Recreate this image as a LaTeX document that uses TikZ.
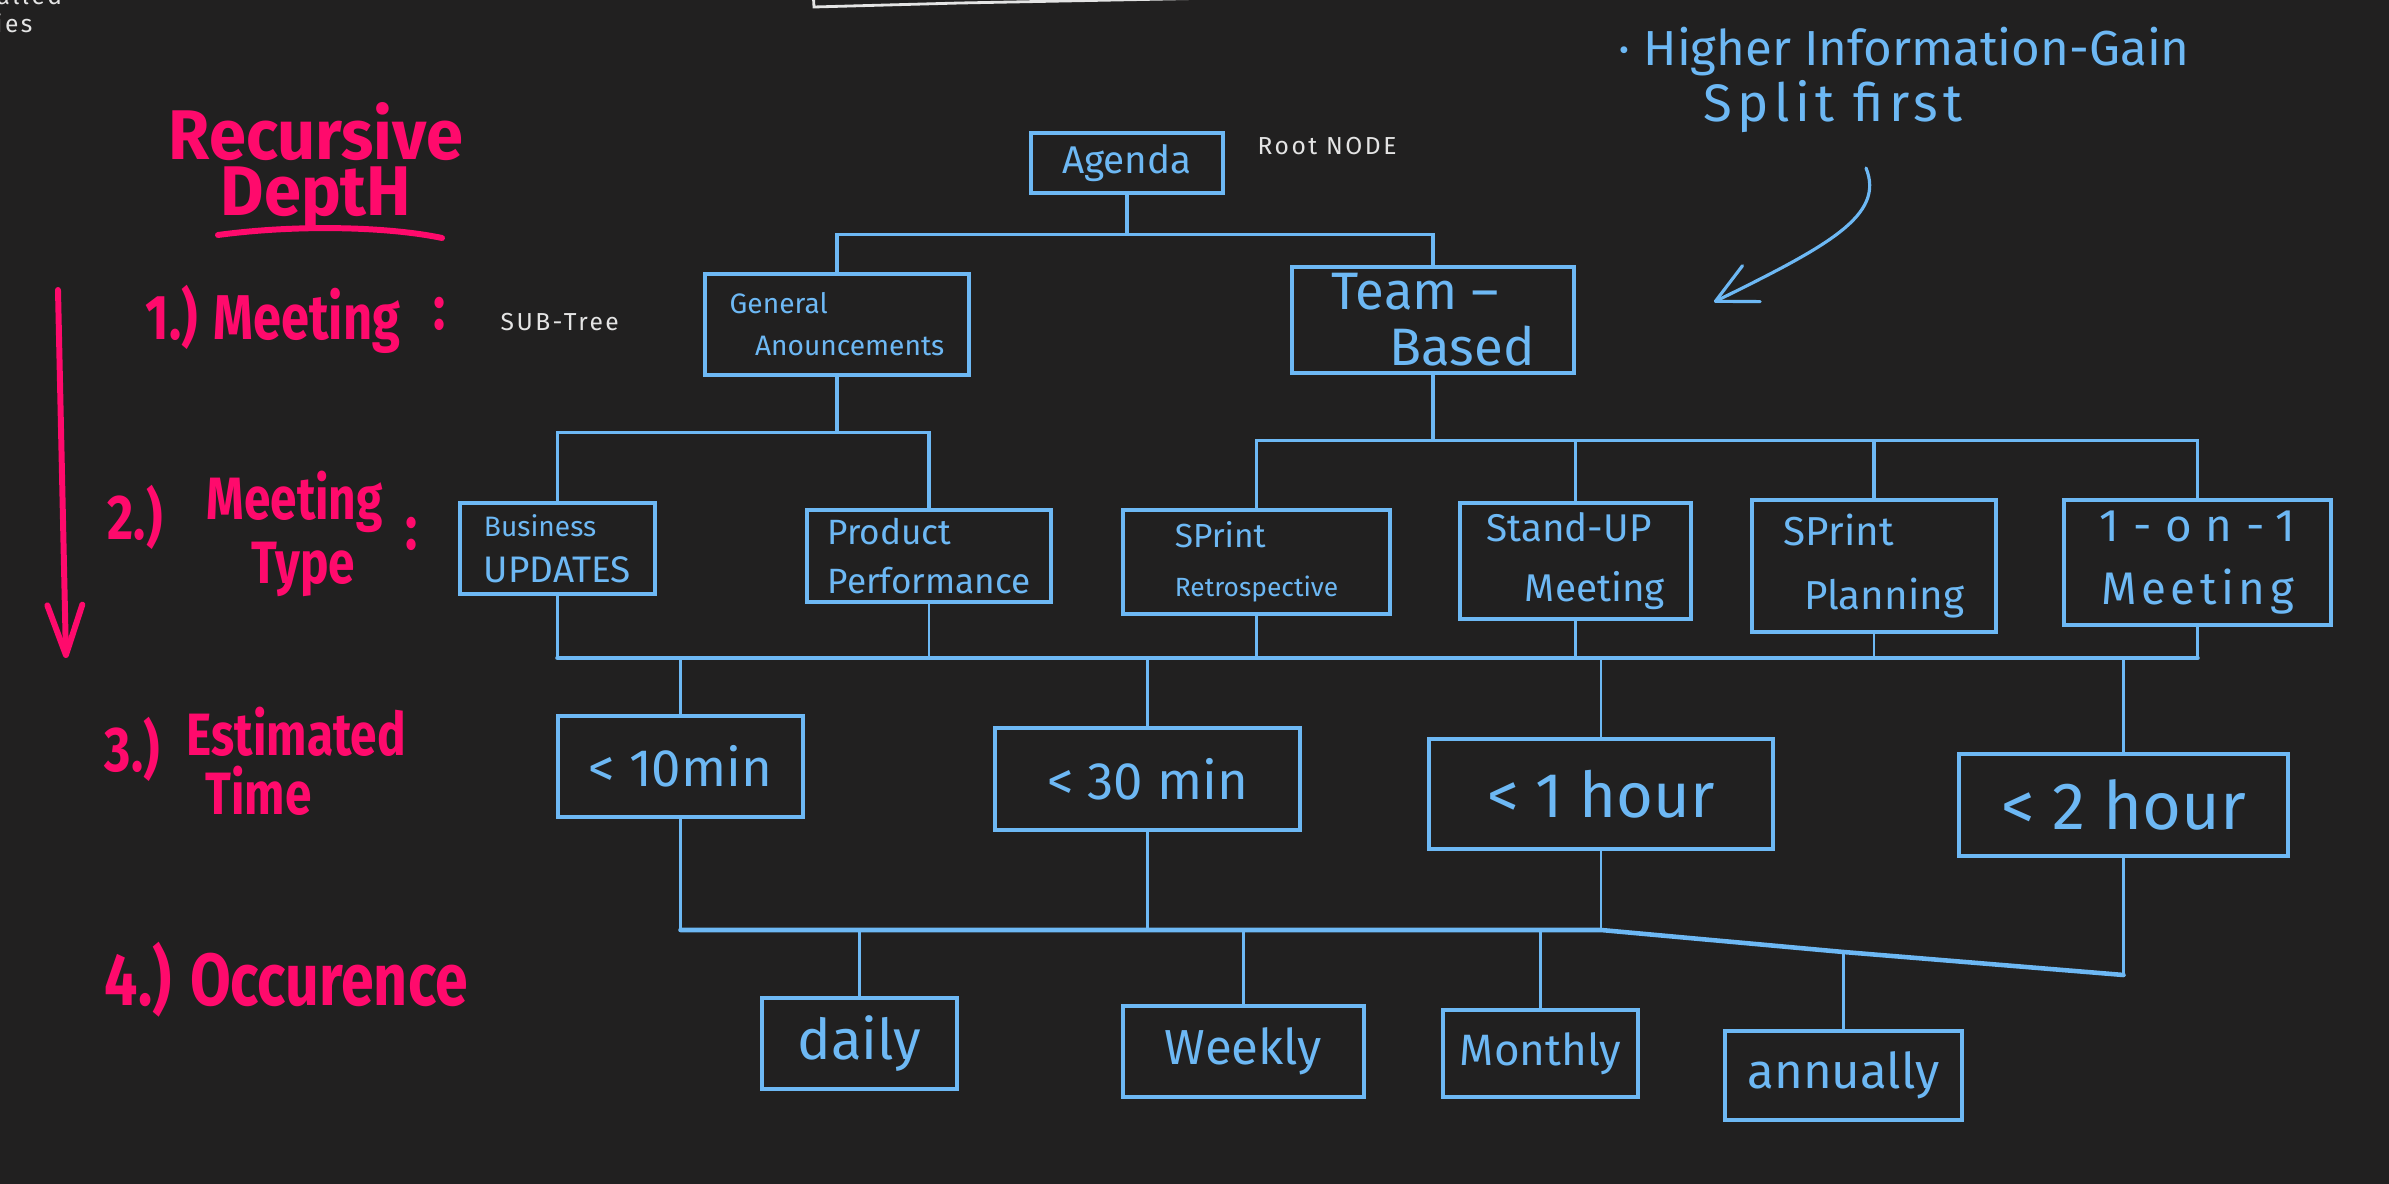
\documentclass[tikz,border=0pt]{standalone}
\usepackage{fontspec}
\setmainfont{Fira Sans}
\newfontfamily\thinhand[LetterSpace=10]{Fira Sans}
\newfontfamily\widehand[LetterSpace=30]{Fira Sans}
\newfontfamily\pinkhand[FakeStretch=0.8]{Fira Sans}
\newfontfamily\pinktitle[FakeStretch=0.95]{Fira Sans}
\usepackage{tikz}
\usetikzlibrary{arrows.meta}
\definecolor{board}{HTML}{212020}
\definecolor{chalkblue}{HTML}{6DB8F4}
\definecolor{chalkpink}{HTML}{FF0A6C}
\definecolor{chalkwhite}{HTML}{E4E4E4}
\newcommand{\sz}[2]{\fontsize{#1}{#2}\selectfont}

\begin{document}
\begin{tikzpicture}[
        leaf/.style 2 args={draw=chalkblue, line width=1.3pt, text=chalkblue, align=center, inner sep=0pt, minimum width=#1cm, minimum height=#2cm},
        link/.style={draw=chalkblue, line width=0.7pt},
        bus/.style={draw=chalkblue, line width=1.3pt, line cap=round, line join=round},
        levelnote/.style={text=chalkpink, inner sep=0pt, anchor=base west},
        aside/.style={text=chalkwhite, inner sep=0pt, anchor=base west, font=\thinhand\sz{7}{8}},
        pinkline/.style={draw=chalkpink, line width=1.7pt, line cap=round},
        note/.style={draw=chalkblue, line width=0.9pt, line cap=round}
    ]
                \fill[board] (0,0) rectangle (23.89,-11.84);
                \useasboundingbox (0,0) rectangle (23.89,-11.84);
                \node[leaf={1.92}{0.60}, font=\sz{11}{13}] (agenda) at (11.27,-1.63) {Agenda};
                \node[leaf={2.64}{1.01}, font=\sz{8}{12}, align=left] (general) at (8.37,-3.245) {General\\\hspace{0.9em}Anouncements};
                \node[leaf={2.82}{1.06}, font=\sz{15}{16}, align=left] (team) at (14.33,-3.20) {Team --\\\hspace{1.1em}Based};
                \node[leaf={1.95}{0.91}, font=\sz{10.5}{13}, align=left] (business) at (5.575,-5.485) {{\sz{8}{13}Business}\\UPDATES};
                \node[leaf={2.44}{0.92}, font=\sz{10}{14}, align=left] (product) at (9.29,-5.56) {Product\\Performance};
                \node[leaf={2.67}{1.04}, font=\sz{7.5}{14}, align=left] (retro) at (12.565,-5.62) {{\sz{9.5}{14}SPrint}\\Retrospective};
                \node[leaf={2.31}{1.16}, font=\sz{11}{17}, align=left] (standup) at (15.755,-5.61) {Stand-UP\\\hspace{1em}Meeting};
                \node[leaf={2.44}{1.32}, font=\sz{11.5}{18}, align=left] (planning) at (18.74,-5.66) {SPrint\\\hspace{0.5em}Planning};
                \node[leaf={2.67}{1.25}, font=\sz{13}{18}] (oneonone) at (21.975,-5.625) {{\widehand 1-on-1}\\{\thinhand Meeting}};
                \node[leaf={2.45}{1.01}, font=\sz{15}{18}] (tenmin) at (6.805,-7.665) {< 10min};
                \node[leaf={3.05}{1.02}, font=\sz{15}{18}] (thirtymin) at (11.475,-7.79) {< 30 min};
                \node[leaf={3.44}{1.10}, font=\sz{18}{21}] (onehour) at (16.01,-7.94) {< 1 hour};
                \node[leaf={3.29}{1.02}, font=\sz{19}{22}] (twohour) at (21.235,-8.05) {< 2 hour};
                \node[leaf={1.95}{0.91}, font=\sz{16}{19}] (daily) at (8.595,-10.435) {daily};
                \node[leaf={2.41}{0.91}, font=\sz{14}{17}] (weekly) at (12.435,-10.515) {Weekly};
                \node[leaf={1.95}{0.87}, font=\sz{12.5}{15}] (monthly) at (15.405,-10.535) {Monthly};
                \node[leaf={2.37}{0.89}, font=\sz{14}{17}] (annually) at (18.435,-10.755) {annually};
                \coordinate (busA) at (0,-6.58);
                \coordinate (busB) at (0,-9.30);
                \coordinate (busC) at (0,-9.52);
                \coordinate (busD) at (0,-9.75);
                \draw[link, line width=1pt] (agenda.south) -- ++(0,-0.39) -| (general.north);
                \draw[link, line width=1pt] (agenda.south) -- ++(0,-0.39) -| (team.north);
                \foreach \kid in {business, product}
                    \draw[link, line width=1pt] (general.south) -- ++(0,-0.55) -| (\kid.north);
                \foreach \kid in {retro, standup, planning, oneonone}
                    \draw[link, line width=1pt] (team.south) -- ++(0,-0.65) -| (\kid.north);
                \foreach \kid in {business, product, retro, standup, planning, oneonone}
                    \draw[link] (\kid.south) -- (\kid.south |- busA);
                \draw[bus] (business.south |- busA) -- (oneonone.south |- busA);
                \foreach \kid in {tenmin, thirtymin, onehour, twohour}
                    \draw[link] (\kid.north |- busA) -- (\kid.north);
                \foreach \kid in {tenmin, thirtymin, onehour}
                    \draw[link] (\kid.south) -- (\kid.south |- busB);
                \draw[link] (twohour.south) -- (twohour.south |- busD);
                \draw[bus] (tenmin.south |- busB) -- (onehour.south |- busB) -- (annually.north |- busC) -- (twohour.south |- busD);
                \foreach \kid in {daily, weekly, monthly}
                    \draw[link] (\kid.north |- busB) -- (\kid.north);
                \draw[link] (annually.north |- busC) -- (annually.north);
                \node[aside] (rootnote) at (12.57,-1.55) {Root NODE};
                \node[aside] (subtree) at (5.00,-3.31) {SUB-Tree};
                \node[aside] (cutone) at (-0.04,-0.05) {alled};
                \node[aside] (cuttwo) at (-0.05,-0.33) {ies};
                \draw[draw=chalkwhite, line width=0.8pt, line cap=round] (8.13,0.10) -- (8.14,-0.07) -- (9.60,-0.03) -- (12.20,0.02);
                \node[anchor=base west, inner sep=0pt, text=chalkblue, font=\sz{14}{16}] (gainnote) at (16.18,-0.66) {· Higher Information-Gain};
                \node[anchor=base west, inner sep=0pt, text=chalkblue, font=\thinhand\sz{15}{17}] (splitnote) at (17.03,-1.22) {Split first};
                \coordinate (gainfrom) at (18.66,-1.68);
                \coordinate (gainto) at (17.14,-3.02);
                \draw[note, -{Straight Barb[length=4mm, width=4mm, round]}] (gainfrom) .. controls (18.85,-2.15) and (18.30,-2.45) .. (gainto);
                \node[levelnote, anchor=north, align=center, font=\pinktitle\bfseries\sz{20}{16}] (recursive) at (3.16,-1.02) {Recursive\\DeptH};
                \draw[pinkline] (2.18,-2.35) .. controls (3.00,-2.24) and (3.90,-2.27) .. (4.42,-2.38);
                \coordinate (downtop) at (0.58,-2.90);
                \coordinate (downend) at (0.66,-6.58);
                \draw[pinkline, -{Straight Barb[length=5mm, width=3.5mm, round]}] (downtop) -- (downend);
                \node[levelnote, font=\pinkhand\bfseries\sz{18}{20}] (stepone) at (1.45,-3.40) {1.) Meeting};
                \node[levelnote, font=\pinkhand\bfseries\sz{18}{20}] (colonone) at (4.33,-3.30) {:};
                \node[levelnote, font=\pinkhand\bfseries\sz{18}{20}] (steptwo) at (1.07,-5.40) {2.)};
                \node[levelnote, font=\pinkhand\bfseries\sz{17}{20}] (meettwo) at (2.06,-5.20) {Meeting};
                \node[levelnote, font=\pinkhand\bfseries\sz{17}{20}] (typetwo) at (2.51,-5.84) {Type};
                \node[levelnote, font=\pinkhand\bfseries\sz{18}{20}] (colontwo) at (4.05,-5.50) {:};
                \node[levelnote, font=\pinkhand\bfseries\sz{18}{20}] (stepthree) at (1.04,-7.72) {3.)};
                \node[levelnote, font=\pinkhand\bfseries\sz{17}{20}] (estthree) at (1.86,-7.56) {Estimated};
                \node[levelnote, font=\pinkhand\bfseries\sz{17}{20}] (timethree) at (2.05,-8.15) {Time};
                \node[levelnote, font=\pinkhand\bfseries\sz{21}{24}] (stepfour) at (1.04,-10.05) {4.) Occurence};
\end{tikzpicture}
\end{document}
